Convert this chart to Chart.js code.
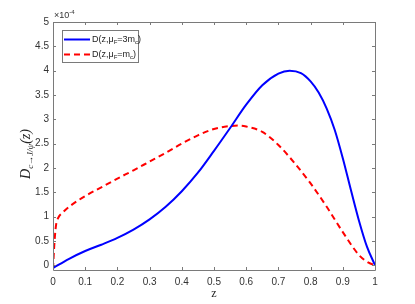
<!DOCTYPE html>
<html>
<head>
<meta charset="utf-8">
<script src="https://cdn.jsdelivr.net/npm/chart.js@4.4.0/dist/chart.umd.min.js"></script>
<style>
  html, body { margin: 0; padding: 0; background: #fff; }
  #wrap { width: 415px; height: 304px; }
</style>
</head>
<body>
<div id="wrap"><canvas id="c" width="415" height="304"></canvas></div>
<script>
// values are in units of 1e-4
var zBlue = [0, 0.05, 0.1, 0.15, 0.2, 0.25, 0.3, 0.35, 0.4, 0.45, 0.5, 0.55, 0.6, 0.65, 0.7, 0.735, 0.77, 0.8, 0.825, 0.85, 0.875, 0.9, 0.925, 0.95, 0.975, 1.0];
var dBlue = [-0.06, 0.13, 0.29, 0.42, 0.56, 0.73, 0.94, 1.2, 1.52, 1.9, 2.35, 2.82, 3.3, 3.7, 3.94, 4.0, 3.95, 3.78, 3.55, 3.22, 2.78, 2.2, 1.55, 0.92, 0.38, 0.0];

var zRed = [0, 0.003, 0.006, 0.01, 0.016, 0.03, 0.05, 0.1, 0.15, 0.2, 0.25, 0.3, 0.35, 0.4, 0.45, 0.5, 0.55, 0.58, 0.6, 0.65, 0.7, 0.75, 0.8, 0.85, 0.9, 0.95, 0.98, 1.0];
var dRed = [-0.08, 0.3, 0.6, 0.85, 0.97, 1.08, 1.2, 1.42, 1.6, 1.78, 1.95, 2.13, 2.31, 2.5, 2.67, 2.8, 2.86, 2.87, 2.85, 2.74, 2.47, 2.1, 1.68, 1.2, 0.68, 0.21, 0.05, 0.0];

var xTicks = [0, 0.1, 0.2, 0.3, 0.4, 0.5, 0.6, 0.7, 0.8, 0.9, 1];
var yTicks = [0, 0.5, 1, 1.5, 2, 2.5, 3, 3.5, 4, 4.5, 5];

var axisColor = '#7a7a7a';
var labelColor = '#333';

function pairs(xs, ys) {
	return xs.map(function (x, i) { return { x: x, y: ys[i] }; });
}

// draws a run of text pieces (for sub/superscripts)
function richText(ctx, parts, x, y, measureOnly) {
	var cx = x;
	parts.forEach(function (p) {
		ctx.font = p.font;
		if (!measureOnly) ctx.fillText(p.t, cx, y + (p.dy || 0));
		cx += ctx.measureText(p.t).width;
	});
	return cx - x;
}

var frame = {
	id: 'frame',
	afterDatasetsDraw: function (chart) {
		var ctx = chart.ctx, a = chart.chartArea;
		var xs = chart.scales.x, ys = chart.scales.y;
		ctx.save();
		ctx.strokeStyle = axisColor;
		ctx.lineWidth = 1;
		ctx.beginPath();
		ctx.rect(Math.round(a.left) + 0.5, Math.round(a.top) + 0.5, Math.round(a.right - a.left), Math.round(a.bottom - a.top));
		var tl = 3;
		xTicks.forEach(function (v) {
			var px = Math.round(xs.getPixelForValue(v)) + 0.5;
			ctx.moveTo(px, a.bottom); ctx.lineTo(px, a.bottom - tl);
			ctx.moveTo(px, a.top); ctx.lineTo(px, a.top + tl);
		});
		yTicks.forEach(function (v) {
			var py = Math.round(ys.getPixelForValue(v)) + 0.5;
			ctx.moveTo(a.left, py); ctx.lineTo(a.left + tl, py);
			ctx.moveTo(a.right, py); ctx.lineTo(a.right - tl, py);
		});
		ctx.stroke();

		// exponent label
		ctx.fillStyle = labelColor;
		ctx.textBaseline = 'alphabetic';
		ctx.textAlign = 'left';
		richText(ctx, [
			{ t: '\u00d710', font: '9px "Liberation Sans"' },
			{ t: '-4', font: '6px "Liberation Sans"', dy: -4 }
		], a.left + 1, a.top - 4);

		// x title
		ctx.font = '12px "Liberation Serif"';
		ctx.textAlign = 'center';
		ctx.fillStyle = '#222';
		ctx.fillText('z', (a.left + a.right) / 2, 297);

		// y title
		ctx.textAlign = 'left';
		var yParts = [
			{ t: 'D', font: 'italic 14px "Liberation Serif"' },
			{ t: 'c\u2192J/\u03c8', font: 'italic 9px "Liberation Serif"', dy: 3 },
			{ t: '(z)', font: 'italic 14px "Liberation Serif"' }
		];
		var w = richText(ctx, yParts, 0, 0, true);
		ctx.translate(30, (a.top + a.bottom) / 2 + 8);
		ctx.rotate(-Math.PI / 2);
		richText(ctx, yParts, -w / 2, 0);
		ctx.restore();

		// legend
		ctx.save();
		var lx = Math.round(a.left) + 9, ly = Math.round(a.top) + 8;
		var bw = 76, bh = 32;
		ctx.fillStyle = '#fff';
		ctx.fillRect(lx, ly, bw, bh);
		ctx.strokeStyle = axisColor;
		ctx.lineWidth = 1;
		ctx.strokeRect(lx + 0.5, ly + 0.5, bw, bh);
		var rows = [
			{ ds: chart.data.datasets[0], y: ly + 9.5, tail: '3m' },
			{ ds: chart.data.datasets[1], y: ly + 24.5, tail: 'm' }
		];
		rows.forEach(function (r) {
			ctx.strokeStyle = r.ds.borderColor;
			ctx.lineWidth = 2;
			ctx.setLineDash(r.ds.borderDash || []);
			ctx.beginPath();
			ctx.moveTo(lx + 2, r.y);
			ctx.lineTo(lx + 28, r.y);
			ctx.stroke();
			ctx.setLineDash([]);
			ctx.fillStyle = '#222';
			ctx.textBaseline = 'middle';
			richText(ctx, [
				{ t: 'D(z,\u03bc', font: '9px "Liberation Sans"' },
				{ t: 'F', font: '6px "Liberation Sans"', dy: 3 },
				{ t: '=' + r.tail, font: '9px "Liberation Sans"' },
				{ t: 'c', font: '6px "Liberation Sans"', dy: 3 },
				{ t: ')', font: '9px "Liberation Sans"' }
			], lx + 30, r.y);
		});
		ctx.restore();
	}
};

function fmt(v) {
	return String(Math.round(v * 10) / 10);
}

new Chart(document.getElementById('c'), {
	type: 'line',
	data: {
		datasets: [
			{
				label: 'D(z,\u03bcF=3mc)',
				data: pairs(zBlue, dBlue),
				borderColor: '#0000ff',
				borderWidth: 2,
				pointRadius: 0,
				fill: false,
				cubicInterpolationMode: 'monotone'
			},
			{
				label: 'D(z,\u03bcF=mc)',
				data: pairs(zRed, dRed),
				borderColor: '#ff0000',
				borderWidth: 2,
				borderDash: [6, 4],
				pointRadius: 0,
				fill: false,
				cubicInterpolationMode: 'monotone'
			}
		]
	},
	options: {
		responsive: false,
		animation: false,
		layout: { padding: { top: 22, right: 40, left: 0, bottom: 0 } },
		plugins: {
			legend: { display: false },
			tooltip: { enabled: false },
			title: { display: false }
		},
		scales: {
			x: {
				type: 'linear',
				min: 0,
				max: 1,
				afterBuildTicks: function (s) { s.ticks = xTicks.map(function (v) { return { value: v }; }); },
				afterFit: function (s) { s.height = 34; },
				grid: { display: false, drawTicks: false },
				border: { display: false },
				ticks: {
					padding: 6,
					maxRotation: 0,
					autoSkip: false,
					color: labelColor,
					font: { family: 'Liberation Sans', size: 10 },
					callback: function (v) { return fmt(v); }
				}
			},
			y: {
				min: -0.1,
				max: 5,
				afterBuildTicks: function (s) { s.ticks = yTicks.map(function (v) { return { value: v }; }); },
				afterFit: function (s) { s.width = 53; },
				grid: { display: false, drawTicks: false },
				border: { display: false },
				ticks: {
					padding: 4,
					autoSkip: false,
					color: labelColor,
					font: { family: 'Liberation Sans', size: 10 },
					callback: function (v) { return fmt(v); }
				}
			}
		}
	},
	plugins: [frame]
});
</script>
</body>
</html>
